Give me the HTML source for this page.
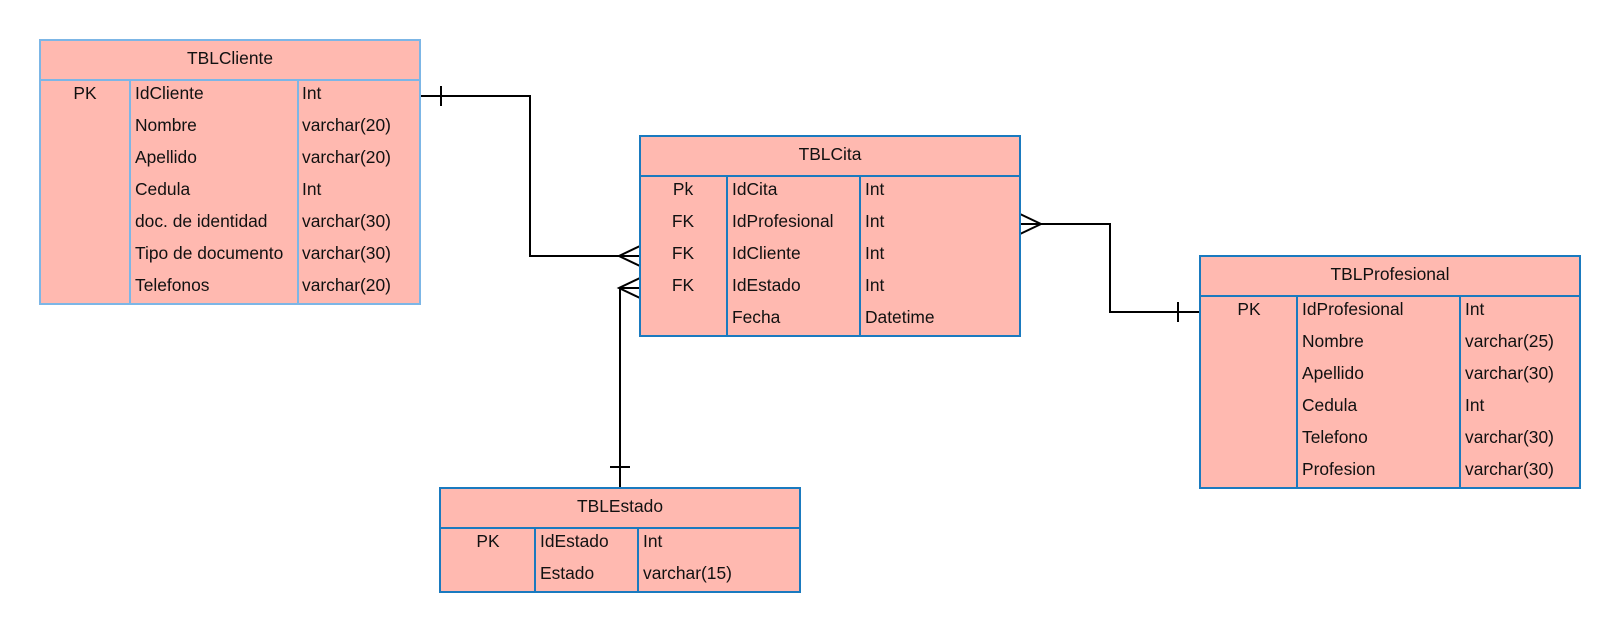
<!DOCTYPE html>
<html><head><meta charset="utf-8"><style>
html,body{margin:0;padding:0;background:#fff;width:1620px;height:632px;overflow:hidden}
svg text{font-family:"Liberation Sans",Arial,sans-serif;font-size:17.4px;fill:#111}
</style></head><body>
<svg width="1620" height="632" viewBox="0 0 1620 632" xmlns="http://www.w3.org/2000/svg">
<g stroke="#000" stroke-width="2" fill="none">
<polyline points="420,96 530,96 530,256 640,256"/>
<line x1="441" y1="86" x2="441" y2="106"/>
<polyline points="640,246 619,256 640,266"/>
<polyline points="620,488 620,288 640,288"/>
<polyline points="640,278 619,288 640,298"/>
<line x1="610" y1="467" x2="630" y2="467"/>
<polyline points="1020,224 1110,224 1110,312 1200,312"/>
<polyline points="1020,214 1041,224 1020,234"/>
<line x1="1178" y1="302" x2="1178" y2="322"/>
</g>

<g>
<rect x="40" y="40" width="380" height="264" fill="#ffb9b0" stroke="#7cb6e6" stroke-width="2"/>
<line x1="40" y1="80" x2="420" y2="80" stroke="#7cb6e6" stroke-width="2"/>
<line x1="130" y1="80" x2="130" y2="304" stroke="#7cb6e6" stroke-width="2"/>
<line x1="298" y1="80" x2="298" y2="304" stroke="#7cb6e6" stroke-width="2"/>
<text x="230" y="64" text-anchor="middle">TBLCliente</text>
<text x="85" y="99" text-anchor="middle">PK</text>
<text x="135" y="99">IdCliente</text><text x="302" y="99">Int</text>
<text x="135" y="131">Nombre</text><text x="302" y="131">varchar(20)</text>
<text x="135" y="163">Apellido</text><text x="302" y="163">varchar(20)</text>
<text x="135" y="195">Cedula</text><text x="302" y="195">Int</text>
<text x="135" y="227">doc. de identidad</text><text x="302" y="227">varchar(30)</text>
<text x="135" y="259">Tipo de documento</text><text x="302" y="259">varchar(30)</text>
<text x="135" y="291">Telefonos</text><text x="302" y="291">varchar(20)</text>
</g>

<g>
<rect x="640" y="136" width="380" height="200" fill="#ffb9b0" stroke="#1a7abf" stroke-width="2"/>
<line x1="640" y1="176" x2="1020" y2="176" stroke="#1a7abf" stroke-width="2"/>
<line x1="727" y1="176" x2="727" y2="336" stroke="#1a7abf" stroke-width="2"/>
<line x1="860" y1="176" x2="860" y2="336" stroke="#1a7abf" stroke-width="2"/>
<text x="830" y="160" text-anchor="middle">TBLCita</text>
<text x="683" y="195" text-anchor="middle">Pk</text><text x="732" y="195">IdCita</text><text x="865" y="195">Int</text>
<text x="683" y="227" text-anchor="middle">FK</text><text x="732" y="227">IdProfesional</text><text x="865" y="227">Int</text>
<text x="683" y="259" text-anchor="middle">FK</text><text x="732" y="259">IdCliente</text><text x="865" y="259">Int</text>
<text x="683" y="291" text-anchor="middle">FK</text><text x="732" y="291">IdEstado</text><text x="865" y="291">Int</text>
<text x="732" y="323">Fecha</text><text x="865" y="323">Datetime</text>
</g>

<g>
<rect x="1200" y="256" width="380" height="232" fill="#ffb9b0" stroke="#1a7abf" stroke-width="2"/>
<line x1="1200" y1="296" x2="1580" y2="296" stroke="#1a7abf" stroke-width="2"/>
<line x1="1297" y1="296" x2="1297" y2="488" stroke="#1a7abf" stroke-width="2"/>
<line x1="1460" y1="296" x2="1460" y2="488" stroke="#1a7abf" stroke-width="2"/>
<text x="1390" y="280" text-anchor="middle">TBLProfesional</text>
<text x="1249" y="315" text-anchor="middle">PK</text>
<text x="1302" y="315">IdProfesional</text><text x="1465" y="315">Int</text>
<text x="1302" y="347">Nombre</text><text x="1465" y="347">varchar(25)</text>
<text x="1302" y="379">Apellido</text><text x="1465" y="379">varchar(30)</text>
<text x="1302" y="411">Cedula</text><text x="1465" y="411">Int</text>
<text x="1302" y="443">Telefono</text><text x="1465" y="443">varchar(30)</text>
<text x="1302" y="475">Profesion</text><text x="1465" y="475">varchar(30)</text>
</g>

<g>
<rect x="440" y="488" width="360" height="104" fill="#ffb9b0" stroke="#1a7abf" stroke-width="2"/>
<line x1="440" y1="528" x2="800" y2="528" stroke="#1a7abf" stroke-width="2"/>
<line x1="535" y1="528" x2="535" y2="592" stroke="#1a7abf" stroke-width="2"/>
<line x1="638" y1="528" x2="638" y2="592" stroke="#1a7abf" stroke-width="2"/>
<text x="620" y="512" text-anchor="middle">TBLEstado</text>
<text x="488" y="547" text-anchor="middle">PK</text>
<text x="540" y="547">IdEstado</text><text x="643" y="547">Int</text>
<text x="540" y="579">Estado</text><text x="643" y="579">varchar(15)</text>
</g>
</svg>
</body></html>
